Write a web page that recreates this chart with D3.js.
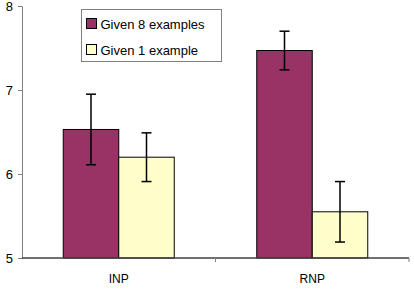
<!DOCTYPE html>
<html>
<head>
<meta charset="utf-8">
<script src="https://cdn.jsdelivr.net/npm/d3@7"></script>
<style>
  body { margin: 0; background: #fff; }
  svg { display: block; font-family: "Liberation Sans", Arial, sans-serif; }
</style>
</head>
<body>
<svg id="chart"></svg>
<script>
// data
var categories = ["INP", "RNP"];
var seriesNames = ["Given 8 examples", "Given 1 example"];
var means8 = [6.53, 7.47];
var err8 = [0.42, 0.23];
var means1 = [6.2, 5.55];
var err1 = [0.29, 0.36];
var yTicks = [5, 6, 7, 8];

var colors = ["#993366", "#ffffcc"];

var width = 414, height = 293;
var margin = { top: 6, right: 5, bottom: 35, left: 22 };
var innerW = width - margin.left - margin.right,
  innerH = height - margin.top - margin.bottom;

var svg = d3.select("#chart").attr("width", width).attr("height", height);
var g = svg.append("g")
  .attr("transform", "translate(" + margin.left + "," + margin.top + ")");

var x = d3.scaleBand().domain(categories).range([0, innerW]);
var x1 = d3.scaleBand().domain([0, 1]).range([0, 111]);
var y = d3.scaleLinear().domain([5, 8]).range([innerH, 0]);

// rows for bars
var rows = [];
categories.forEach(function (c, i) {
  rows.push({ cat: c, s: 0, v: means8[i], e: err8[i] });
  rows.push({ cat: c, s: 1, v: means1[i], e: err1[i] });
});

function barX(d) {
  return x(d.cat) + (x.bandwidth() - 111) / 2 + x1(d.s);
}

g.selectAll("rect.bar")
  .data(rows)
  .enter()
  .append("rect")
  .attr("class", "bar")
  .attr("x", barX)
  .attr("width", x1.bandwidth())
  .attr("y", function (d) { return y(d.v); })
  .attr("height", function (d) { return innerH - y(d.v); })
  .attr("fill", function (d) { return colors[d.s]; })
  .attr("stroke", "#000")
  .attr("stroke-width", 1);

// error bars
var eb = g.selectAll("g.err").data(rows).enter().append("g").attr("class", "err")
  .attr("transform", function (d) {
    return "translate(" + (barX(d) + x1.bandwidth() / 2) + ",0)";
  });
eb.append("line")
  .attr("y1", function (d) { return y(d.v + d.e); })
  .attr("y2", function (d) { return y(d.v - d.e); })
  .attr("stroke", "#000").attr("stroke-width", 1.5);
eb.append("line")
  .attr("x1", -5).attr("x2", 5)
  .attr("y1", function (d) { return y(d.v + d.e); })
  .attr("y2", function (d) { return y(d.v + d.e); })
  .attr("stroke", "#000").attr("stroke-width", 1.5);
eb.append("line")
  .attr("x1", -5).attr("x2", 5)
  .attr("y1", function (d) { return y(d.v - d.e); })
  .attr("y2", function (d) { return y(d.v - d.e); })
  .attr("stroke", "#000").attr("stroke-width", 1.5);

// y axis
var yAxis = d3.axisLeft(y).tickValues(yTicks).tickFormat(d3.format("d"))
  .tickSize(4).tickPadding(5);
var ya = g.append("g").attr("class", "y axis").call(yAxis);
ya.select(".domain").attr("stroke", "#808080");
ya.selectAll(".tick line").attr("stroke", "#808080");
ya.selectAll(".tick text").attr("font-size", 13).attr("fill", "#000")
  .attr("font-family", "Liberation Sans, Arial, sans-serif");

// x axis: ticks at band boundaries
var xa = g.append("g").attr("class", "x axis")
  .attr("transform", "translate(0," + innerH + ")");
xa.append("line").attr("x1", 0).attr("x2", innerW)
  .attr("stroke", "#404040").attr("stroke-width", 1.5);
xa.selectAll("line.sep")
  .data(categories)
  .enter()
  .append("line")
  .attr("class", "sep")
  .attr("x1", function (d) { return x(d) + x.bandwidth(); })
  .attr("x2", function (d) { return x(d) + x.bandwidth(); })
  .attr("y1", 0).attr("y2", 4)
  .attr("stroke", "#808080");
xa.selectAll("text")
  .data(categories)
  .enter()
  .append("text")
  .attr("x", function (d) { return x(d) + x.bandwidth() / 2; })
  .attr("y", 25)
  .attr("text-anchor", "middle")
  .attr("font-size", 12)
  .text(function (d) { return d; });

// legend
var legend = svg.append("g").attr("transform", "translate(81.5,9.5)");
legend.append("rect")
  .attr("width", 140).attr("height", 52)
  .attr("fill", "#fff").attr("stroke", "#808080");
seriesNames.forEach(function (name, i) {
  var row = legend.append("g").attr("transform", "translate(5," + (9 + i * 26) + ")");
  row.append("rect").attr("width", 10).attr("height", 10)
    .attr("fill", colors[i]).attr("stroke", "#000");
  row.append("text").attr("x", 14).attr("y", 10)
    .attr("font-size", 13).text(name);
});
</script>
</body>
</html>
